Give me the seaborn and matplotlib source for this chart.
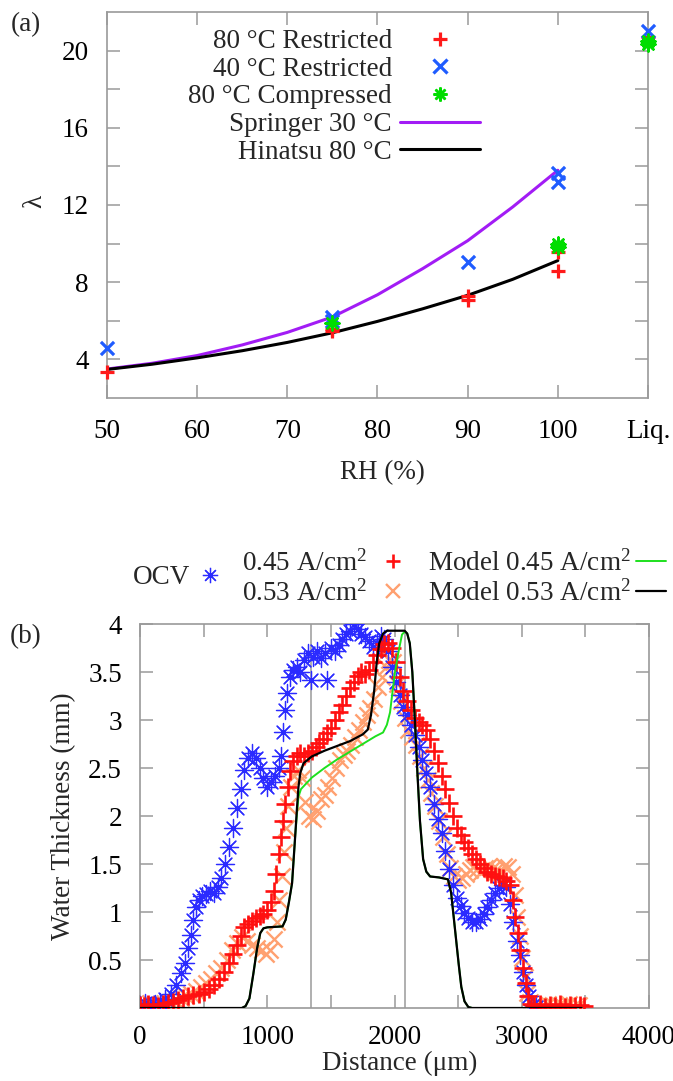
import matplotlib
matplotlib.use("Agg")
import matplotlib.pyplot as plt
import seaborn as sns
from matplotlib.lines import Line2D

# ===== panel (a): water uptake vs RH =====
rh_ticks = [50, 60, 70, 80, 90, 100, 110]
rh_labels = ["50", "60", "70", "80", "90", "100", "Liq."]

r80_x = [50, 75, 75, 90, 90, 100, 100, 110]
r80_y = [3.35, 5.45, 5.6, 7.1, 7.3, 9.55, 8.6, 20.7]
r40_x = [50, 75, 75, 90, 100, 100, 110]
r40_y = [4.6, 6.2, 6.0, 9.05, 13.65, 13.2, 21.0]
c80_x = [75, 100, 100, 110, 110]
c80_y = [5.9, 10.0, 9.8, 20.35, 20.5]

curve_rh = [50, 55, 60, 65, 70, 75, 80, 85, 90, 95, 100]
springer_lam = [3.5, 3.8, 4.2, 4.75, 5.4, 6.2, 7.35, 8.7, 10.15, 11.9, 13.8]
hinatsu_lam = [3.48, 3.75, 4.08, 4.45, 4.88, 5.38, 5.97, 6.62, 7.32, 8.15, 9.12]

# ===== panel (b): water thickness profiles =====
ocv_x = [0, 40, 80, 120, 160, 200, 240, 280, 320, 350, 380, 400, 420, 440, 460, 490,
         520, 550, 580, 610, 640, 670, 700, 730, 760, 790, 820, 850, 880, 910, 940,
         970, 1000, 1030, 1060, 1090, 1110, 1125, 1140, 1155, 1175, 1200, 1230, 1260,
         1290, 1320, 1340, 1360, 1390, 1420, 1450, 1470, 1500, 1530, 1560, 1590, 1620,
         1650, 1680, 1710, 1740, 1770, 1800, 1830, 1860, 1890, 1920, 1950, 1980, 2010,
         2040, 2070, 2100, 2130, 2160, 2190, 2220, 2250, 2280, 2310, 2340, 2370, 2400,
         2430, 2460, 2490, 2520, 2550, 2580, 2610, 2640, 2670, 2700, 2730, 2760, 2790,
         2820, 2850, 2880, 2910, 2935, 2960, 2985, 3010, 3035, 3060, 3085, 3110]
ocv_y = [0.03, 0.05, 0.02, 0.04, 0.06, 0.09, 0.15, 0.24, 0.36, 0.47, 0.62, 0.76, 0.92,
         1.05, 1.13, 1.17, 1.19, 1.22, 1.2, 1.26, 1.35, 1.5, 1.68, 1.88, 2.08, 2.28,
         2.48, 2.6, 2.66, 2.6, 2.5, 2.4, 2.3, 2.35, 2.42, 2.5, 2.62, 2.88, 3.1, 3.28,
         3.45, 3.52, 3.55, 3.5, 3.62, 3.7, 3.42, 3.66, 3.72, 3.65, 3.7, 3.42, 3.75,
         3.72, 3.78, 3.84, 3.9, 3.93, 4.0, 3.95, 3.9, 3.86, 3.82, 3.76, 3.8, 3.88, 3.84,
         3.72, 3.55, 3.4, 3.26, 3.14, 3.05, 2.95, 2.84, 2.72, 2.58, 2.45, 2.3, 2.12,
         1.97, 1.82, 1.64, 1.45, 1.28, 1.15, 1.06, 0.99, 0.94, 0.9, 0.9, 0.93, 0.98,
         1.05, 1.12, 1.2, 1.25, 1.28, 1.26, 1.08, 0.9, 0.7, 0.55, 0.38, 0.24, 0.12,
         0.03, 0.01]

i45_x = [0, 30, 60, 100, 140, 180, 220, 260, 300, 340, 380, 420, 460, 500, 540, 580,
         620, 660, 700, 730, 760, 790, 820, 850, 880, 910, 940, 970, 1000, 1030, 1050,
         1070, 1090, 1110, 1125, 1140, 1160, 1180, 1200, 1230, 1260, 1290, 1320, 1350,
         1380, 1410, 1440, 1470, 1500, 1530, 1560, 1590, 1620, 1650, 1680, 1710, 1740,
         1770, 1800, 1830, 1860, 1890, 1920, 1950, 1980, 2010, 2040, 2070, 2100, 2130,
         2160, 2190, 2220, 2250, 2280, 2310, 2340, 2370, 2400, 2430, 2460, 2490, 2520,
         2550, 2580, 2610, 2640, 2670, 2700, 2730, 2760, 2790, 2820, 2850, 2880, 2905,
         2930, 2950, 2970, 2990, 3010, 3030, 3050, 3070, 3100, 3140, 3180, 3220, 3260,
         3300, 3340, 3380, 3420, 3460, 3490]
i45_y = [0.03, 0.02, 0.04, 0.03, 0.02, 0.04, 0.05, 0.06, 0.08, 0.1, 0.12, 0.14, 0.15,
         0.17, 0.2, 0.24, 0.3, 0.38, 0.47, 0.56, 0.66, 0.75, 0.84, 0.88, 0.91, 0.94,
         0.96, 0.98, 1.02, 1.1, 1.22, 1.4, 1.6, 1.78, 1.95, 2.12, 2.3, 2.47, 2.57, 2.63,
         2.66, 2.62, 2.66, 2.68, 2.72, 2.76, 2.8, 2.86, 2.92, 3.0, 3.08, 3.16, 3.25,
         3.33, 3.4, 3.46, 3.5, 3.48, 3.52, 3.6, 3.68, 3.74, 3.79, 3.8, 3.75, 3.6, 3.45,
         3.3, 3.2, 3.1, 3.02, 2.98, 2.95, 2.9, 2.8, 2.68, 2.55, 2.42, 2.28, 2.14, 2.0,
         1.88, 1.8, 1.73, 1.67, 1.6, 1.55, 1.5, 1.46, 1.42, 1.4, 1.38, 1.36, 1.35, 1.32,
         1.28, 1.12, 0.95, 0.78, 0.6, 0.42, 0.26, 0.12, 0.04, 0.02, 0.04, 0.01, 0.03,
         0.02, 0.04, 0.01, 0.03, 0.02, 0.03, 0.02]

i53_x = [0, 40, 80, 120, 160, 200, 240, 280, 320, 360, 400, 440, 480, 520, 560, 600,
         640, 680, 720, 760, 800, 840, 880, 920, 960, 990, 1020, 1050, 1075, 1095, 1115,
         1130, 1145, 1165, 1185, 1210, 1240, 1270, 1300, 1330, 1360, 1390, 1420, 1450,
         1480, 1510, 1540, 1570, 1600, 1630, 1660, 1690, 1720, 1750, 1780, 1810, 1840,
         1870, 1900, 1930, 1960, 1990, 2020, 2050, 2080, 2110, 2140, 2170, 2200, 2230,
         2260, 2290, 2320, 2350, 2380, 2410, 2440, 2470, 2500, 2530, 2560, 2590, 2620,
         2650, 2680, 2710, 2740, 2770, 2800, 2830, 2860, 2890, 2920, 2945, 2965, 2985,
         3005, 3025, 3045, 3065, 3090, 3130, 3170, 3210, 3250, 3290, 3330, 3370, 3410,
         3450]
i53_y = [0.04, 0.02, 0.05, 0.03, 0.01, 0.03, 0.05, 0.07, 0.1, 0.12, 0.15, 0.18, 0.22,
         0.26, 0.3, 0.36, 0.42, 0.5, 0.6, 0.68, 0.74, 0.7, 0.66, 0.63, 0.6, 0.56, 0.6,
         0.72, 0.9, 1.12, 1.38, 1.62, 1.88, 2.1, 2.3, 2.42, 2.48, 2.4, 2.15, 2.0, 1.97,
         2.05, 2.18, 2.22, 2.3, 2.4, 2.5, 2.58, 2.64, 2.68, 2.74, 2.82, 2.9, 2.98, 3.05,
         3.12, 3.22, 3.34, 3.45, 3.55, 3.62, 3.6, 3.38, 3.2, 3.02, 2.9, 2.82, 2.74,
         2.62, 2.5, 2.38, 2.24, 2.1, 1.95, 1.78, 1.6, 1.46, 1.38, 1.33, 1.35, 1.4, 1.44,
         1.47, 1.45, 1.42, 1.46, 1.48, 1.45, 1.44, 1.42, 1.48, 1.47, 1.4, 1.18, 0.95,
         0.75, 0.52, 0.32, 0.16, 0.06, 0.02, 0.03, 0.01, 0.04, 0.02, 0.03, 0.01, 0.04,
         0.02, 0.03]

m45_x = [0, 800, 830, 860, 890, 920, 945, 970, 1000, 1120, 1145, 1170, 1195, 1210,
         1220, 1232, 1245, 1265, 1300, 1350, 1450, 1550, 1650, 1750, 1850, 1910, 1940,
         1965, 1985, 2004, 2030, 2059, 2080, 2100, 2120, 2140, 2160, 2180, 2200, 2225,
         2250, 2280, 2350, 2420, 2445, 2465, 2485, 2505, 2525, 2550, 2580, 2610, 3470]
m45_y = [0, 0, 0.02, 0.1, 0.35, 0.62, 0.78, 0.83, 0.84, 0.85, 0.92, 1.1, 1.3, 1.6,
         1.8, 2.0, 2.2, 2.28, 2.33, 2.4, 2.5, 2.59, 2.67, 2.75, 2.83, 2.87, 2.95, 3.08,
         3.3, 3.5, 3.7, 3.89, 3.92, 3.9, 3.8, 3.5, 3.0, 2.45, 1.95, 1.55, 1.42, 1.37,
         1.36, 1.34, 1.2, 0.95, 0.7, 0.45, 0.22, 0.07, 0.01, 0, 0]

m53_x = [0, 800, 830, 860, 890, 920, 945, 970, 1000, 1120, 1145, 1170, 1195, 1210,
         1220, 1232, 1245, 1260, 1285, 1350, 1450, 1550, 1650, 1750, 1790, 1815, 1840,
         1860, 1880, 1910, 1940, 2000, 2080, 2100, 2120, 2140, 2160, 2180, 2200, 2225,
         2250, 2280, 2350, 2420, 2445, 2465, 2485, 2505, 2525, 2550, 2580, 2610, 3470]
m53_y = [0, 0, 0.02, 0.1, 0.35, 0.62, 0.78, 0.83, 0.84, 0.85, 0.92, 1.1, 1.3, 1.6,
         1.8, 2.05, 2.3, 2.45, 2.55, 2.62, 2.68, 2.73, 2.78, 2.85, 2.9, 3.05, 3.3, 3.6,
         3.8, 3.9, 3.93, 3.93, 3.93, 3.9, 3.8, 3.5, 3.0, 2.45, 1.95, 1.55, 1.42, 1.37,
         1.36, 1.34, 1.2, 0.95, 0.7, 0.45, 0.22, 0.07, 0.01, 0, 0]

guide_x = [1340, 2080]

# === style ===
sns.set_style("ticks")
plt.rcParams["font.family"] = ["Liberation Serif", "DejaVu Serif"]
plt.rcParams["mathtext.fontset"] = "custom"
plt.rcParams["mathtext.rm"] = "Liberation Serif"
plt.rcParams["mathtext.it"] = "Liberation Serif:italic"
FS = 19.5
GRAY = "#9a9a9a"
ASTER = (8, 2, 0)

RED, BLUE, GREEN, PURPLE = "#ff1a1a", "#1f5cff", "#00dd00", "#a21cf5"
B_BLUE, B_RED, B_ORANGE, B_GREEN = "#2b2bff", "#ff1010", "#ffa070", "#1ee01e"

fig = plt.figure(figsize=(6.73, 10.81), dpi=100)
ax_a = fig.add_axes([107 / 673, 1 - 398 / 1081, 541 / 673, 386 / 1081])
ax_b = fig.add_axes([140 / 673, 1 - 1008 / 1081, 509 / 673, 384 / 1081])

for ax in (ax_a, ax_b):
    for sp in ax.spines.values():
        sp.set_color(GRAY)
        sp.set_linewidth(1.2)
    ax.tick_params(direction="in", length=9.5, width=1.1, color=GRAY, top=True,
                   right=True, labelsize=FS, labelcolor="black")
    ax.tick_params(axis="y", pad=13)
ax_a.tick_params(axis="x", pad=15)
ax_b.tick_params(axis="x", pad=12)

# === Panel (a) ===
sns.lineplot(x=curve_rh, y=springer_lam, ax=ax_a, color=PURPLE, lw=2.2)
sns.lineplot(x=curve_rh, y=hinatsu_lam, ax=ax_a, color="black", lw=2.2)
sns.scatterplot(x=r80_x, y=r80_y, ax=ax_a, marker="+", s=110, color=RED, linewidth=2.3,
                clip_on=False, zorder=5)
sns.scatterplot(x=r40_x, y=r40_y, ax=ax_a, marker="x", s=90, color=BLUE, linewidth=2.3,
                clip_on=False, zorder=5)
sns.scatterplot(x=c80_x, y=c80_y, ax=ax_a, marker=ASTER, s=100, color=GREEN,
                linewidth=1.8, clip_on=False, zorder=5)

ax_a.set_xlim(50, 110)
ax_a.set_ylim(2, 22)
ax_a.set_xticks(rh_ticks)
ax_a.set_xticklabels(rh_labels)
ax_a.set_yticks(range(4, 21, 2))
ax_a.set_yticklabels([str(v) if v % 4 == 0 else "" for v in range(4, 21, 2)])
ax_a.set_xlabel("RH (%)", fontsize=FS)
ax_a.xaxis.set_label_coords(0.51, -0.16)
ax_a.set_ylabel("λ", fontsize=FS)
ax_a.yaxis.set_label_coords(-0.11, 0.51)

handles_a = [
    Line2D([], [], ls="none", marker="+", ms=10.5, mew=2.3, color=RED),
    Line2D([], [], ls="none", marker="x", ms=9.5, mew=2.3, color=BLUE),
    Line2D([], [], ls="none", marker=ASTER, ms=10, mew=1.8, color=GREEN),
    Line2D([], [], color=PURPLE, lw=2.2),
    Line2D([], [], color="black", lw=2.2),
]
labels_a = ["80 °C Restricted", "40 °C Restricted", "80 °C Compressed",
            "Springer 30 °C", "Hinatsu 80 °C"]
ax_a.legend(handles_a, labels_a, loc="upper right", markerfirst=False, frameon=False,
            fontsize=FS, handlelength=2.95, handletextpad=0.3, labelspacing=0.1,
            borderpad=0, borderaxespad=0,
            bbox_to_anchor=(480 / 673, 1 - 29 / 1081), bbox_transform=fig.transFigure)

# === Panel (b) ===
for gx in guide_x:
    ax_b.axvline(gx, color=GRAY, lw=1.1, zorder=1)
sns.scatterplot(x=i53_x, y=i53_y, ax=ax_b, marker="x", s=135, color=B_ORANGE,
                linewidth=1.7, zorder=2)
sns.scatterplot(x=ocv_x, y=ocv_y, ax=ax_b, marker=ASTER, s=170, color=B_BLUE,
                linewidth=0.9, zorder=3)
sns.scatterplot(x=i45_x, y=i45_y, ax=ax_b, marker="+", s=150, color=B_RED,
                linewidth=1.9, zorder=4)
sns.lineplot(x=m45_x, y=m45_y, ax=ax_b, color=B_GREEN, lw=1.4, sort=False, zorder=5)
sns.lineplot(x=m53_x, y=m53_y, ax=ax_b, color="black", lw=1.6, sort=False, zorder=6)

ax_b.set_xlim(0, 4000)
ax_b.set_ylim(0, 4)
ax_b.set_xticks(range(0, 4001, 500))
ax_b.set_xticklabels([str(v) if v % 1000 == 0 else "" for v in range(0, 4001, 500)])
y_b = [0.5, 1, 1.5, 2, 2.5, 3, 3.5, 4]
ax_b.set_yticks(y_b)
ax_b.set_yticklabels(["0.5", "1", "1.5", "2", "2.5", "3", "3.5", "4"])
ax_b.set_xlabel("Distance (μm)", fontsize=FS)
ax_b.xaxis.set_label_coords(0.51, -0.112)
ax_b.set_ylabel("Water Thickness (mm)", fontsize=FS)
ax_b.yaxis.set_label_coords(-0.125, 0.5)

leg_kw = dict(markerfirst=False, frameon=False, fontsize=FS, borderpad=0,
              borderaxespad=0, loc="center right", bbox_transform=fig.transFigure)
leg1 = ax_b.legend([Line2D([], [], ls="none", marker=ASTER, ms=11, mew=0.9, color=B_BLUE)],
                   ["OCV"], handlelength=1.0, handletextpad=0.25,
                   bbox_to_anchor=(224 / 673, 1 - 578 / 1081), **leg_kw)
ax_b.add_artist(leg1)
leg2 = ax_b.legend([Line2D([], [], ls="none", marker="+", ms=10.5, mew=1.9, color=B_RED),
                    Line2D([], [], ls="none", marker="x", ms=9.5, mew=1.7, color=B_ORANGE)],
                   ["0.45 A/cm$^2$", "0.53 A/cm$^2$"], handlelength=1.0,
                   handletextpad=0.45, labelspacing=0.12,
                   bbox_to_anchor=(407 / 673, 1 - 578 / 1081), **leg_kw)
ax_b.add_artist(leg2)
ax_b.legend([Line2D([], [], color=B_GREEN, lw=1.4), Line2D([], [], color="black", lw=1.6)],
            ["Model 0.45 A/cm$^2$", "Model 0.53 A/cm$^2$"], handlelength=1.1,
            handletextpad=0.2, labelspacing=0.12,
            bbox_to_anchor=(666 / 673, 1 - 578 / 1081), **leg_kw)

fig.text(26 / 673, 1 - 25 / 1081, "(a)", fontsize=FS, ha="center", va="center")
fig.text(26 / 673, 1 - 637 / 1081, "(b)", fontsize=FS, ha="center", va="center")

fig.savefig("out.png", dpi=100)
